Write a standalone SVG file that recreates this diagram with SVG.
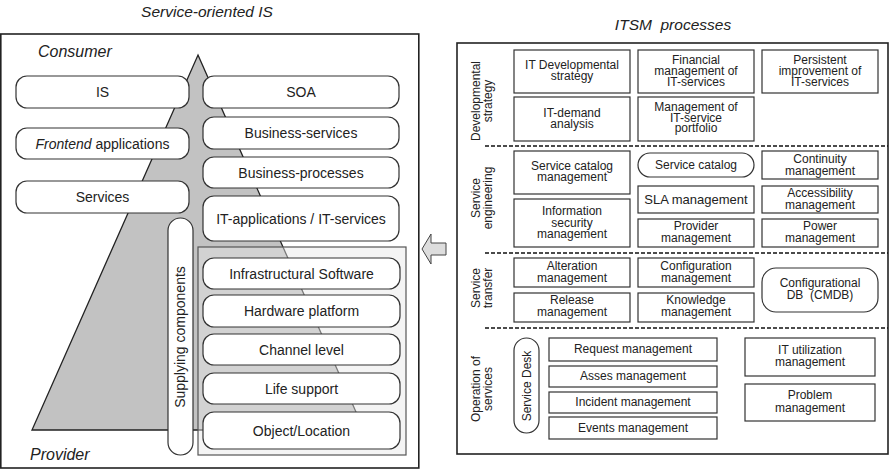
<svg xmlns="http://www.w3.org/2000/svg" width="891" height="470" viewBox="0 0 891 470">
<defs>
<style>
text{font-family:"Liberation Sans",Arial,sans-serif;fill:#222;}
.t14{font-size:14px;text-anchor:middle;}
.t12{font-size:12px;text-anchor:middle;}
.ttl{font-size:15.5px;font-style:italic;text-anchor:middle;}
.it{font-style:italic;}
.rb{fill:#fff;stroke:#333;stroke-width:1.2;}
.sb{fill:#fff;stroke:#333;stroke-width:1.2;}
.frame{fill:#fff;stroke:#222;stroke-width:1.6;}
.dash{stroke:#111;stroke-width:1.4;stroke-dasharray:4,2;fill:none;}
</style>
</defs>
<rect width="891" height="470" fill="#fff"/>

<!-- Left panel -->
<text class="ttl" x="207" y="17">Service-oriented IS</text>
<rect class="frame" x="0.8" y="34" width="418" height="434"/>
<text class="it" x="38" y="57" style="font-size:16px">Consumer</text>
<text class="it" x="30" y="460" style="font-size:16px">Provider</text>

<g id="pyramid">
<polygon points="198,55 364,430 32,430" fill="#c2c2c2" stroke="#222" stroke-width="1.3"/>
</g>

<g id="is"><rect class="rb" x="16" y="76" width="173" height="32" rx="11"/><text class="t14" x="102.5" y="97">IS</text></g>
<g id="soa"><rect class="rb" x="203" y="76" width="196" height="32" rx="11"/><text class="t14" x="301" y="97">SOA</text></g>
<g id="frontend"><rect class="rb" x="16" y="128" width="173" height="31" rx="11"/><text class="t14" x="102.5" y="148.5"><tspan font-style="italic">Frontend</tspan> applications</text></g>
<g id="bservices"><rect class="rb" x="203" y="117" width="196" height="32" rx="11"/><text class="t14" x="301" y="138">Business-services</text></g>
<g id="bprocesses"><rect class="rb" x="203" y="157" width="196" height="31" rx="11"/><text class="t14" x="301" y="177.5">Business-processes</text></g>
<g id="services"><rect class="rb" x="16" y="181" width="173" height="32" rx="11"/><text class="t14" x="102.5" y="202">Services</text></g>
<g id="itapps"><rect class="rb" x="203" y="196" width="196" height="45" rx="11"/><text class="t14" x="301" y="223.5">IT-applications / IT-services</text></g>

<g id="supplying"><rect class="rb" x="168" y="218" width="25" height="237" rx="12.5"/><text class="t14" transform="translate(185,337) rotate(-90)">Supplying components</text></g>

<g id="infra-group">
<rect x="198" y="247" width="208" height="208" fill="#e6e6e6" fill-opacity="0.45" stroke="#555" stroke-width="1.2"/>
</g>
<g id="infrasw"><rect class="rb" x="203" y="258" width="197" height="31" rx="11"/><text class="t14" x="301.5" y="278.5">Infrastructural Software</text></g>
<g id="hardware"><rect class="rb" x="203" y="295" width="197" height="32" rx="11"/><text class="t14" x="301.5" y="316">Hardware platform</text></g>
<g id="channel"><rect class="rb" x="203" y="334" width="197" height="31" rx="11"/><text class="t14" x="301.5" y="354.5">Channel level</text></g>
<g id="life"><rect class="rb" x="203" y="373" width="197" height="31" rx="11"/><text class="t14" x="301.5" y="393.5">Life support</text></g>
<g id="object"><rect class="rb" x="203" y="412" width="197" height="37" rx="11"/><text class="t14" x="301.5" y="435.5">Object/Location</text></g>

<!-- connector arrow -->
<g id="connectors">
<polygon points="422,249 431,234 431,243 446,243 446,255 431,255 431,264" fill="#ddd" stroke="#444" stroke-width="1"/>
</g>

<!-- Right panel -->
<text class="ttl" x="673" y="30" xml:space="preserve">ITSM  processes</text>
<rect class="frame" x="457" y="43" width="431" height="411"/>
<line class="dash" x1="485" y1="146" x2="888" y2="146"/>
<line class="dash" x1="485" y1="253" x2="888" y2="253"/>
<line class="dash" x1="485" y1="328" x2="888" y2="328"/>

<g id="lbl-dev"><text class="t12" transform="translate(480,101) rotate(-90)">Developmental</text><text class="t12" transform="translate(492,101) rotate(-90)">strategy</text></g>
<g id="lbl-eng"><text class="t12" transform="translate(480,198) rotate(-90)">Service</text><text class="t12" transform="translate(492,198) rotate(-90)">engineering</text></g>
<g id="lbl-tr"><text class="t12" transform="translate(480,288) rotate(-90)">Service</text><text class="t12" transform="translate(492,288) rotate(-90)">transfer</text></g>
<g id="lbl-op"><text class="t12" transform="translate(480,389) rotate(-90)">Operation of</text><text class="t12" transform="translate(492,389) rotate(-90)">services</text></g>

<g id="itdev"><rect class="sb" x="514" y="50" width="116" height="43"/><text class="t12" x="572" y="69">IT Developmental</text><text class="t12" x="572" y="80">strategy</text></g>
<g id="financial"><rect class="sb" x="638" y="50" width="116" height="43"/><text class="t12" x="696" y="64">Financial</text><text class="t12" x="696" y="75">management of</text><text class="t12" x="696" y="86">IT-services</text></g>
<g id="persistent"><rect class="sb" x="762" y="50" width="116" height="43"/><text class="t12" x="820" y="64">Persistent</text><text class="t12" x="820" y="75">improvement of</text><text class="t12" x="820" y="86">IT-services</text></g>
<g id="demand"><rect class="sb" x="514" y="97" width="116" height="44"/><text class="t12" x="572" y="117">IT-demand</text><text class="t12" x="572" y="128">analysis</text></g>
<g id="portfolio"><rect class="sb" x="638" y="97" width="116" height="44"/><text class="t12" x="696" y="111">Management of</text><text class="t12" x="696" y="121.5">IT-service</text><text class="t12" x="696" y="132">portfolio</text></g>

<g id="catmgmt"><rect class="sb" x="514" y="151" width="116" height="43"/><text class="t12" x="572" y="170">Service catalog</text><text class="t12" x="572" y="181">management</text></g>
<g id="infosec"><rect class="sb" x="514" y="199" width="116" height="48"/><text class="t12" x="572" y="215">Information</text><text class="t12" x="572" y="227">security</text><text class="t12" x="572" y="238">management</text></g>
<g id="catalog"><rect class="rb" x="638" y="153" width="116" height="24" rx="12"/><text class="t12" x="696" y="169">Service catalog</text></g>
<g id="sla"><rect class="sb" x="638" y="186" width="116" height="27"/><text class="t12" x="696" y="203.5" style="font-size:13px">SLA management</text></g>
<g id="provider"><rect class="sb" x="638" y="219" width="116" height="28"/><text class="t12" x="696" y="230">Provider</text><text class="t12" x="696" y="242">management</text></g>
<g id="continuity"><rect class="sb" x="762" y="151" width="116" height="28"/><text class="t12" x="820" y="163">Continuity</text><text class="t12" x="820" y="175">management</text></g>
<g id="access"><rect class="sb" x="762" y="186" width="116" height="27"/><text class="t12" x="820" y="197">Accessibility</text><text class="t12" x="820" y="209">management</text></g>
<g id="power"><rect class="sb" x="762" y="219" width="116" height="28"/><text class="t12" x="820" y="230">Power</text><text class="t12" x="820" y="242">management</text></g>

<g id="alteration"><rect class="sb" x="514" y="258" width="116" height="29"/><text class="t12" x="572" y="270">Alteration</text><text class="t12" x="572" y="282">management</text></g>
<g id="config"><rect class="sb" x="638" y="258" width="116" height="29"/><text class="t12" x="696" y="270">Configuration</text><text class="t12" x="696" y="282">management</text></g>
<g id="release"><rect class="sb" x="514" y="293" width="116" height="29"/><text class="t12" x="572" y="304">Release</text><text class="t12" x="572" y="316">management</text></g>
<g id="knowledge"><rect class="sb" x="638" y="293" width="116" height="29"/><text class="t12" x="696" y="304">Knowledge</text><text class="t12" x="696" y="316">management</text></g>
<g id="cmdb"><rect class="rb" x="762" y="268" width="116" height="44" rx="14"/><text class="t12" x="820" y="287">Configurational</text><text class="t12" x="820" y="299" xml:space="preserve">DB  (CMDB)</text></g>

<g id="servicedesk"><rect class="rb" x="514" y="338" width="25" height="95" rx="12.5"/><text class="t12" transform="translate(531,386) rotate(-90)">Service Desk</text></g>
<g id="request"><rect class="sb" x="549" y="338" width="168" height="23"/><text class="t12" x="633" y="353">Request management</text></g>
<g id="asses"><rect class="sb" x="549" y="366" width="168" height="21"/><text class="t12" x="633" y="380">Asses management</text></g>
<g id="incident"><rect class="sb" x="549" y="392" width="168" height="21"/><text class="t12" x="633" y="406">Incident management</text></g>
<g id="events"><rect class="sb" x="549" y="417" width="168" height="22"/><text class="t12" x="633" y="431.5">Events management</text></g>
<g id="itutil"><rect class="sb" x="745" y="338" width="130" height="38"/><text class="t12" x="810" y="354">IT utilization</text><text class="t12" x="810" y="366">management</text></g>
<g id="problem"><rect class="sb" x="745" y="384" width="130" height="37"/><text class="t12" x="810" y="399">Problem</text><text class="t12" x="810" y="412">management</text></g>
</svg>
